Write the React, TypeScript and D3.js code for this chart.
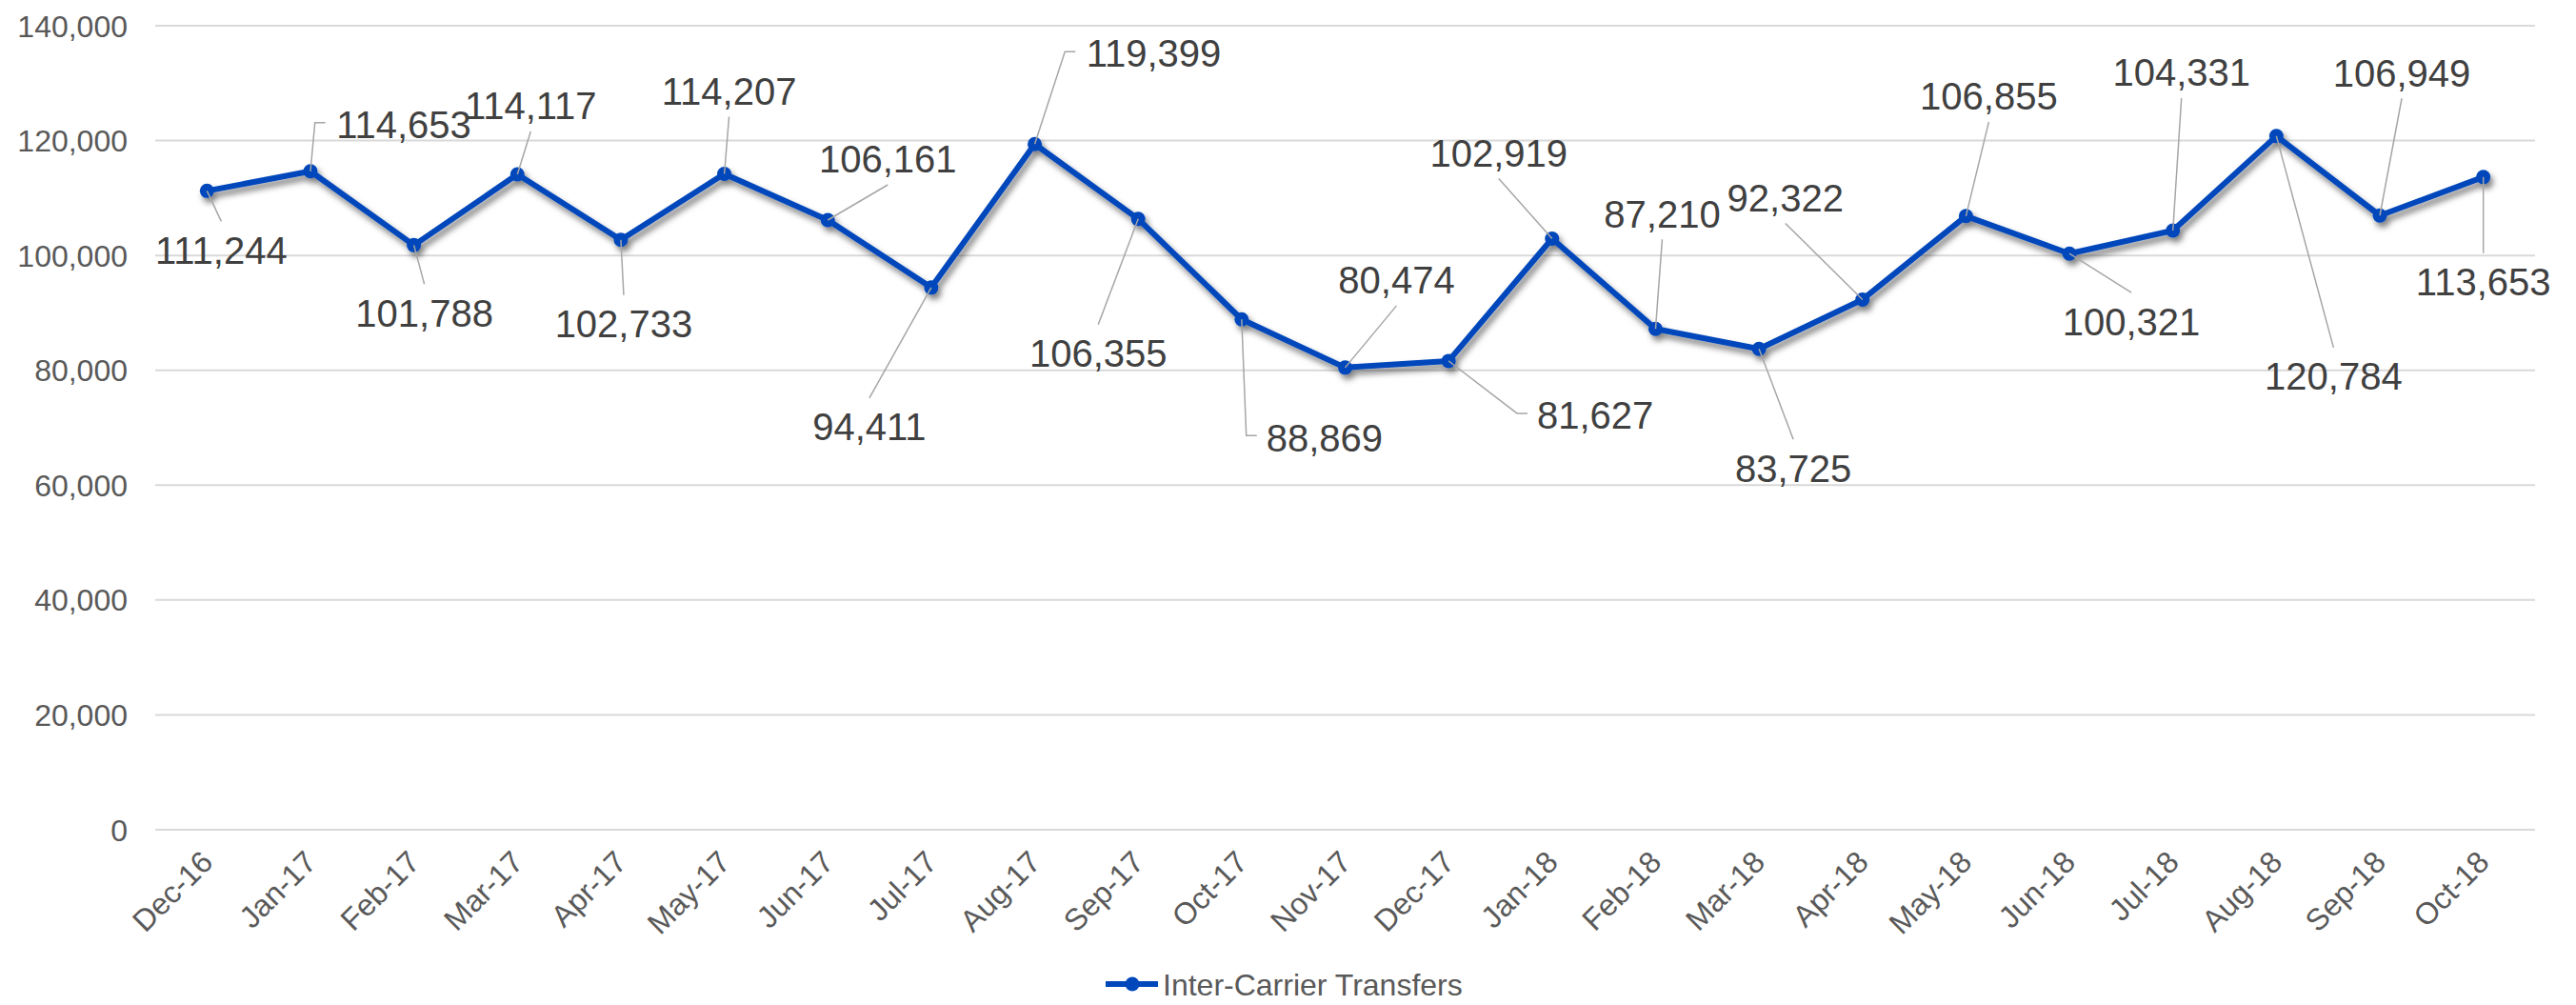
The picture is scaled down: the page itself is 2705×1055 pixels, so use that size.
import React from "react";
import * as d3 from "d3";

const categories = ["Dec-16","Jan-17","Feb-17","Mar-17","Apr-17","May-17","Jun-17","Jul-17","Aug-17","Sep-17","Oct-17","Nov-17","Dec-17","Jan-18","Feb-18","Mar-18","Apr-18","May-18","Jun-18","Jul-18","Aug-18","Sep-18","Oct-18"];
const transfers = [111244,114653,101788,114117,102733,114207,106161,94411,119399,106355,88869,80474,81627,102919,87210,83725,92322,106855,100321,104331,120784,106949,113653];
const yTicks = [0,20000,40000,60000,80000,100000,120000,140000];
const seriesName = "Inter-Carrier Transfers";

// label layout: offset of label centre from its point (px), and whether the leader attaches at the side
const labelDx = [15,98,11,14,3,5,63,-65,125,-42,87,54,154,-56,7,36,-81,24,65,9,60,23,0];
const labelDy = [62,-49,71,-72,88,-87,-64,146,-95,141,124,-92,57,-90,-121,125,-107,-126,71,-166,252,-150,110];
const labelSide = [false,true,false,false,false,false,false,false,true,false,true,false,true,false,false,false,false,false,false,false,false,false,false];

const W = 2705, H = 1055;
const M = { left: 163, right: 2662, top: 27, bottom: 871 };
const FONT = "'Liberation Sans', Arial, sans-serif";
const LINE = "#0047BB";

function textWidth(s: string, size: number) {
  let w = 0;
  for (const c of s) w += c === "," ? 0.278 : 0.556;
  return w * size;
}

export default function App() {
  const x = d3.scaleBand<string>().domain(categories).range([M.left, M.right]);
  const y = d3.scaleLinear().domain([0, 140000]).range([M.bottom, M.top]);
  const fmt = d3.format(",");
  const px = (i: number) => (x(categories[i]) as number) + x.bandwidth() / 2;
  const pts = transfers.map((v, i) => [px(i), y(v)] as [number, number]);
  const line = d3.line<[number, number]>().x(d => d[0]).y(d => d[1]);

  return (
    <svg width={W} height={H} style={{ position: "absolute", left: 0, top: 0, background: "#fff" }} fontFamily={FONT}>
      <defs>
        <filter id="shadow" x="-10%" y="-10%" width="120%" height="130%">
          <feDropShadow dx="3" dy="5" stdDeviation="3" floodColor="#000" floodOpacity="0.5" />
        </filter>
      </defs>
      <rect width={W} height={H} fill="#fff" />
      {yTicks.map(t => (
        <g key={t}>
          <line x1={M.left} x2={M.right} y1={y(t)} y2={y(t)} stroke="#d9d9d9" strokeWidth={2} />
          <text x={134} y={y(t)} dy="0.36em" textAnchor="end" fontSize={32} fill="#595959">{fmt(t)}</text>
        </g>
      ))}
      {categories.map((c, i) => (
        <text key={c} transform={`translate(${px(i) + 8},${907}) rotate(-45)`} textAnchor="end" fontSize={32} fill="#595959">{c}</text>
      ))}
      <g filter="url(#shadow)">
        <path d={line(pts) as string} fill="none" stroke={LINE} strokeWidth={6} strokeLinejoin="round" />
        {pts.map((p, i) => (
          <circle key={i} cx={p[0]} cy={p[1]} r={7.5} fill={LINE} />
        ))}
      </g>
      {transfers.map((v, i) => {
        const [x0, y0] = pts[i];
        const cx = x0 + labelDx[i];
        const cy = y0 + labelDy[i];
        const s = fmt(v);
        const w = textWidth(s, 40);
        let d: string;
        if (labelSide[i]) {
          const ex = cx - w / 2 - 10;
          d = `M${x0},${y0}L${ex - 11},${cy - 2}L${ex},${cy - 2}`;
        } else if (labelDy[i] < 0) {
          d = `M${x0},${y0}L${cx},${cy + 27}`;
        } else {
          d = `M${x0},${y0}L${cx},${cy - 30}`;
        }
        return (
          <g key={i}>
            <path d={d} fill="none" stroke="#a6a6a6" strokeWidth={1.5} />
            <text x={cx} y={cy + 14.3} textAnchor="middle" fontSize={40} fill="#404040">{s}</text>
          </g>
        );
      })}
      <g>
        <line x1={1161} x2={1216} y1={1033} y2={1033} stroke={LINE} strokeWidth={6} />
        <circle cx={1189} cy={1033} r={7.5} fill={LINE} />
        <text x={1221} y={1033} dy="0.36em" fontSize={32} fill="#595959">{seriesName}</text>
      </g>
    </svg>
  );
}
